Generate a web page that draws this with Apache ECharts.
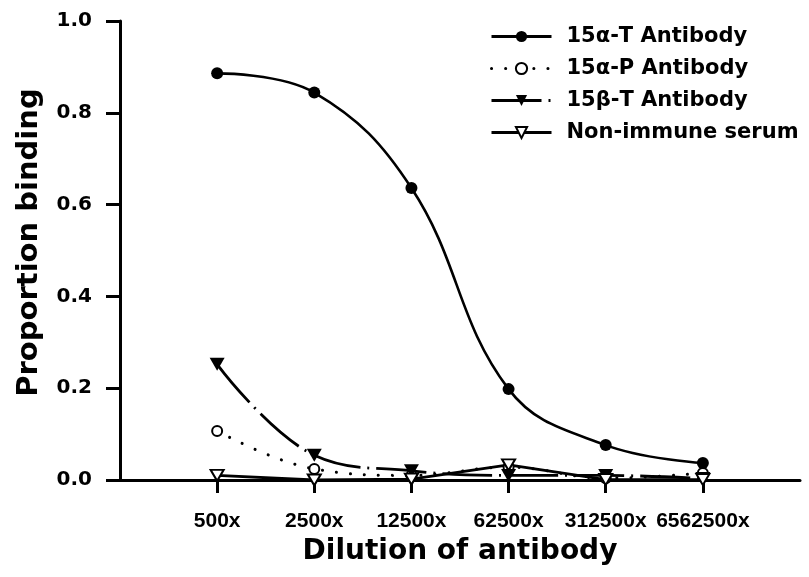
<!DOCTYPE html>
<html>
<head>
<meta charset="utf-8">
<script src="https://cdn.jsdelivr.net/npm/echarts@6/dist/echarts.min.js"></script>
<style>
  html, body { margin: 0; padding: 0; background: #fff; }
  #chart { width: 809px; height: 577px; }
</style>
</head>
<body>
<div id="chart"></div>
<script>
// Antibody dilutions on the x axis
const dilutions = ['500x', '2500x', '12500x', '62500x', '312500x', '6562500x'];

// Proportion binding for each antiserum
const alphaT = [0.886, 0.844, 0.636, 0.198, 0.076, 0.037];
const alphaP = [0.107, 0.024, 0.010, 0.028, 0.004, 0.015];
const betaT = [0.252, 0.054, 0.020, 0.010, 0.010, 0.003];
const nonImmune = [0.010, 0.000, 0.002, 0.033, 0.001, 0.001];

const seriesNames = ['15α-T Antibody', '15α-P Antibody', '15β-T Antibody', 'Non-immune serum'];

const yTicks = { min: 0, max: 1, step: 0.2 };

// empty slots at both ends leave a margin of one step on each side
const axisCats = [''].concat(dilutions, ['']);

const pairs = vals => dilutions.map((d, i) => [d, vals[i]]);

const DOWN_TRI = 'path://M0,0 L14,0 L7,12 Z';
const TITLE_FONT = 'DejaVu Sans';

const chart = echarts.init(document.getElementById('chart'), null, { renderer: 'canvas' });

chart.setOption({
  animation: false,
  backgroundColor: '#fff',
  grid: { left: 120, right: 9, top: 21, bottom: 97, containLabel: false },
  legend: {
    orient: 'vertical',
    left: 485,
    top: 21,
    itemWidth: 60,
    itemHeight: 14,
    itemGap: 11,
    data: seriesNames,
    lineStyle: { width: 3 },
    textStyle: {
      fontFamily: TITLE_FONT, fontWeight: 'bold', fontSize: 21, color: '#000',
      lineHeight: 21, padding: [0, 0, 0, 10]
    }
  },
  xAxis: {
    type: 'category',
    data: axisCats,
    boundaryGap: false,
    axisLine: { lineStyle: { color: '#000', width: 3 } },
    axisTick: {
      length: 13,
      lineStyle: { color: '#000', width: 3 },
      interval: (i, v) => v !== ''
    },
    axisLabel: {
      interval: 0,
      margin: 31,
      color: '#000',
      fontFamily: 'Liberation Sans, Arial, sans-serif',
      fontWeight: 'bold',
      fontSize: 21
    },
    splitLine: { show: false },
    name: 'Dilution of antibody',
    nameLocation: 'middle',
    nameGap: 58,
    nameTextStyle: { fontFamily: TITLE_FONT, fontWeight: 'bold', fontSize: 28, color: '#000' }
  },
  yAxis: {
    type: 'value',
    min: yTicks.min,
    max: yTicks.max,
    interval: yTicks.step,
    axisLine: { show: true, lineStyle: { color: '#000', width: 3 } },
    axisTick: { show: true, length: 14, lineStyle: { color: '#000', width: 3 } },
    axisLabel: {
      margin: 28,
      color: '#000',
      fontFamily: TITLE_FONT,
      fontWeight: 'bold',
      fontSize: 20,
      formatter: v => v.toFixed(1)
    },
    splitLine: { show: false },
    name: 'Proportion binding',
    nameLocation: 'middle',
    nameGap: 76,
    nameTextStyle: {
      fontFamily: TITLE_FONT, fontWeight: 'bold', fontSize: 29, color: '#000',
      padding: [0, 0, 0, 16]
    }
  },
  series: [
    {
      name: seriesNames[0],
      type: 'line',
      smooth: 0.4,
      data: pairs(alphaT),
      symbol: 'circle',
      symbolSize: 12,
      itemStyle: { color: '#000' },
      lineStyle: { color: '#000', width: 2.6 }
    },
    {
      name: seriesNames[1],
      type: 'line',
      smooth: 0.4,
      data: pairs(alphaP),
      symbol: 'circle',
      symbolSize: 10,
      itemStyle: { color: '#fff', borderColor: '#000', borderWidth: 2 },
      lineStyle: { color: '#000', width: 3, type: [0.1, 14], cap: 'round' }
    },
    {
      name: seriesNames[2],
      type: 'line',
      smooth: 0.4,
      data: pairs(betaT),
      symbol: DOWN_TRI,
      symbolSize: [15, 13],
      itemStyle: { color: '#000' },
      lineStyle: { color: '#000', width: 2.8, type: [50, 7, 2, 7] }
    },
    {
      name: seriesNames[3],
      type: 'line',
      smooth: false,
      data: pairs(nonImmune),
      symbol: DOWN_TRI,
      symbolSize: [13, 11],
      itemStyle: { color: '#fff', borderColor: '#000', borderWidth: 2 },
      lineStyle: { color: '#000', width: 2.8 }
    }
  ]
});
</script>
</body>
</html>
